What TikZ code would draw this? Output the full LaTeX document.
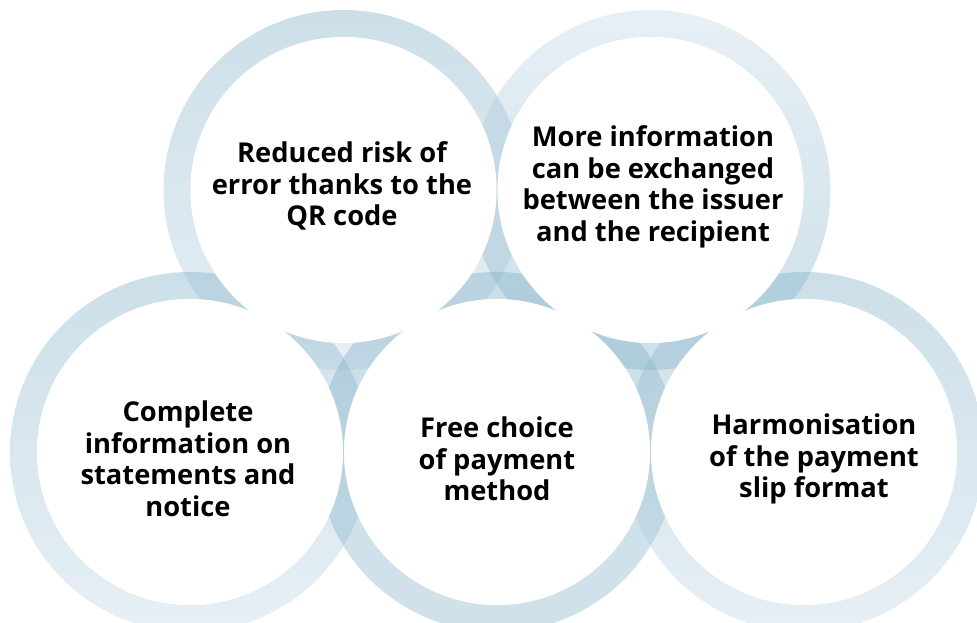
\documentclass[tikz,border=0pt]{standalone}
\usepackage{fontspec}
\setmainfont{Open Sans}
\definecolor{ringdark}{RGB}{131,177,201}
\definecolor{ringlight}{RGB}{196,217,230}
\tikzset{
  ring/.style={even odd rule, fill opacity=0.41},
  darktop/.style={ring, top color=ringdark, bottom color=ringlight},
  lighttop/.style={ring, top color=ringlight, bottom color=ringdark},
  flatring/.style={ring, top color=ringdark, bottom color=ringdark!85!ringlight},
  disc/.style={circle, fill=white, inner sep=0pt, minimum size=306pt},
  label/.style={align=center, font=\bfseries\fontsize{27.3}{31.5}\selectfont, text=black}
}
\begin{document}
\begin{tikzpicture}[x=1pt,y=-1pt]
\useasboundingbox (0,0) rectangle (977,623);
\clip (0,0) rectangle (977,623);
% circle centres
\coordinate (c1) at (343.5,190);
\coordinate (c2) at (650.5,190);
\coordinate (c3) at (190,452);
\coordinate (c4) at (497,452);
\coordinate (c5) at (804,452);
% translucent rings
\shade[darktop]  (c1) circle[radius=180] (c1) circle[radius=153];
\shade[lighttop] (c2) circle[radius=180] (c2) circle[radius=153];
\shade[darktop]  (c3) circle[radius=180] (c3) circle[radius=153];
\shade[flatring] (c4) circle[radius=180] (c4) circle[radius=153];
\shade[darktop]  (c5) circle[radius=180] (c5) circle[radius=153];
% white discs
\node[disc] (d1) at (c1) {};
\node[disc] (d2) at (c2) {};
\node[disc] (d3) at (c3) {};
\node[disc] (d4) at (c4) {};
\node[disc] (d5) at (c5) {};
% labels
\node[label] (t1) at (342,186) {Reduced risk of\\error thanks to the\\QR code};
\node[label] (t2) at (653,187) {More information\\can be exchanged\\between the issuer\\and the recipient};
\node[label] (t3) at (188,459) {Complete\\information on\\statements and\\notice};
\node[label] (t4) at (497,459) {Free choice\\of payment\\method};
\node[label] (t5) at (814,459) {Harmonisation\\of the payment\\slip format};
\end{tikzpicture}
\end{document}
